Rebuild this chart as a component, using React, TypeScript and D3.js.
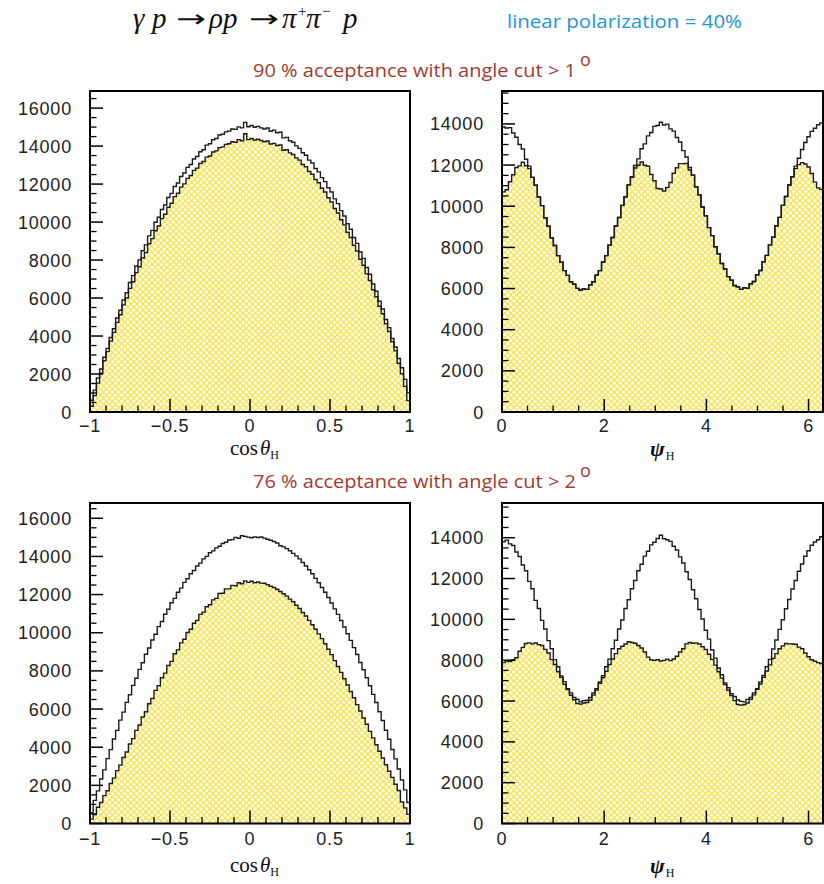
import React from 'react';
import * as d3 from 'd3';

// ---------- data (bin contents, 100 bins each) ----------
const cosAll90 = [620,1150,1790,2260,2880,3350,3920,4380,4950,5360,5900,6280,6820,7180,7690,8010,8490,8800,9270,9560,9990,10250,10660,10900,11290,11510,11870,12060,12400,12580,12880,13030,13320,13450,13700,13810,14050,14120,14330,14400,14580,14620,14750,14790,14900,14880,15010,14960,15250,15020,15080,14990,15040,14960,14900,14950,14780,14840,14700,14730,14430,14460,14280,14200,14010,13880,13650,13520,13260,13110,12820,12640,12340,12130,11810,11580,11220,10970,10600,10320,9910,9620,9190,8880,8420,8090,7610,7250,6740,6360,5830,5420,4870,4440,3870,3420,2820,2330,1720,1020];
const cosAcc90 = [300,860,1520,2040,2700,3180,3730,4190,4720,5120,5640,6000,6510,6860,7340,7650,8110,8400,8860,9130,9540,9790,10180,10410,10780,10990,11340,11520,11840,12010,12300,12450,12720,12840,13080,13190,13420,13480,13690,13750,13920,13960,14090,14120,14230,14200,14340,14280,14650,14340,14400,14320,14360,14290,14230,14270,14110,14140,14030,14060,13780,13810,13640,13560,13380,13260,13030,12910,12660,12520,12240,12070,11780,11580,11280,11060,10710,10480,10120,9850,9460,9190,8780,8480,8040,7730,7270,6920,6440,6070,5570,5170,4650,4240,3700,3220,2570,2010,1350,600];
const cosAll76 = [570,1210,1710,2330,2810,3400,3870,4430,4880,5420,5840,6350,6750,7240,7610,8080,8430,8870,9200,9620,9920,10320,10590,10970,11230,11570,11800,12120,12340,12640,12830,13090,13260,13500,13650,13870,14000,14190,14290,14450,14530,14680,14740,14860,14880,15000,14950,15080,15050,15010,14980,15020,14990,15020,14960,14900,14850,14780,14700,14560,14500,14410,14300,14160,14030,13870,13680,13500,13300,13090,12850,12620,12370,12120,11850,11560,11250,10960,10640,10300,9950,9600,9220,8860,8440,8060,7640,7220,6770,6340,5860,5400,4890,4420,3880,3390,2860,2280,1760,1100];
const cosAcc76 = [230,470,850,1100,1460,1720,2100,2380,2770,3060,3460,3750,4170,4450,4880,5160,5580,5860,6280,6550,6980,7220,7640,7880,8280,8500,8900,9100,9470,9660,10010,10180,10500,10650,10960,11080,11360,11470,11720,11800,12060,12070,12300,12300,12480,12460,12620,12570,12720,12640,12700,12620,12660,12600,12590,12520,12440,12370,12280,12160,12040,11920,11760,11620,11440,11270,11060,10880,10650,10420,10180,9940,9690,9420,9130,8850,8540,8230,7920,7590,7260,6920,6590,6230,5900,5530,5200,4830,4490,4130,3790,3430,3080,2740,2420,2060,1730,1130,820,480];

const psiAll90 = [13850,13800,13820,13560,13350,13000,12780,12280,11950,11400,11020,10450,10030,9440,9030,8470,8090,7600,7280,6870,6640,6330,6210,6010,5920,5980,5960,6180,6330,6650,6870,7290,7600,8110,8480,9040,9450,10040,10460,11040,11420,11980,12300,12790,13030,13420,13580,13880,13920,14080,13950,13990,13760,13650,13340,13120,12700,12390,11880,11510,10940,10550,9960,9540,8960,8570,8030,7690,7220,6950,6580,6410,6150,6090,5960,6040,6010,6230,6340,6670,6880,7300,7610,8120,8490,9050,9460,10040,10470,11030,11430,11950,12330,12760,13100,13380,13640,13790,13960,14050];
const psiAcc90 = [10700,10800,11190,11530,11880,11960,12140,11970,11830,11400,11020,10450,10030,9440,9030,8470,8090,7600,7280,6870,6640,6330,6210,6010,5920,5980,5960,6180,6330,6650,6870,7290,7600,8110,8480,9040,9450,10040,10460,11040,11420,11860,11990,12150,11990,11940,11540,11240,10860,10840,10740,10910,11150,11600,11870,12070,12070,12080,11760,11510,10940,10550,9960,9540,8960,8570,8030,7690,7220,6950,6580,6410,6150,6090,5960,6040,6010,6230,6340,6670,6880,7300,7610,8120,8490,9050,9460,10040,10470,11030,11430,11830,12020,12120,12050,11910,11590,11170,10890,10820];
const psiAll76 = [13800,13880,13700,13620,13300,13080,12660,12380,11860,11500,10930,10530,9950,9530,8960,8560,8030,7680,7230,6950,6600,6400,6180,6090,5960,6020,6040,6170,6390,6600,6940,7240,7680,8050,8560,8980,9530,9970,10530,10960,11500,11900,12380,12700,13100,13340,13650,13780,13960,14120,13950,13900,13820,13580,13400,13060,12760,12330,11950,11450,11010,10480,10020,9470,9030,8500,8100,7620,7290,6890,6650,6360,6220,6050,5980,5960,6080,6170,6400,6600,6940,7250,7680,8040,8550,8990,9510,9980,10520,10970,11490,11900,12360,12710,13090,13360,13630,13790,13900,14050];
const psiAcc76 = [7880,7960,7930,8010,8120,8440,8630,8820,8850,8800,8840,8760,8720,8530,8350,8030,7790,7430,7160,6820,6560,6280,6060,5880,5850,5900,5930,6040,6290,6540,6870,7140,7460,7790,8060,8320,8560,8680,8790,8900,8870,8830,8720,8600,8400,8150,8020,7990,8030,7960,7990,8050,7980,8060,8190,8400,8560,8800,8870,8830,8850,8790,8660,8520,8290,8040,7760,7430,7120,6810,6530,6270,6020,5830,5800,5830,5900,6080,6300,6570,6830,7160,7470,7770,8080,8320,8560,8700,8820,8800,8790,8780,8640,8560,8350,8170,8020,7950,7880,7840];

const cosMajor = [-1, -0.5, 0, 0.5, 1];
const cosMajorLabels = ['\u22121', '\u22120.5', '0', '0.5', '1'];
const cosMinor = [-0.9, -0.8, -0.7, -0.6, -0.4, -0.3, -0.2, -0.1, 0.1, 0.2, 0.3, 0.4, 0.6, 0.7, 0.8, 0.9];
const psiMajor = [0, 2, 4, 6];
const psiMajorLabels = ['0', '2', '4', '6'];
const psiMinor = [0.5, 1, 1.5, 2.5, 3, 3.5, 4.5, 5, 5.5];
const yMajor = [0, 2000, 4000, 6000, 8000, 10000, 12000, 14000, 16000];
const yMinor = d3.range(500, 17000, 500).filter((v) => v % 2000 !== 0);

const TITLE_RED_1 = '90 % acceptance with angle cut > 1';
const TITLE_RED_2 = '76 % acceptance with angle cut > 2';
const TITLE_BLUE = 'linear polarization = 40%';

const LABEL_FONT = '"Liberation Sans", Arial, sans-serif';
const SERIF = '"Liberation Serif", "Times New Roman", serif';
const HUMAN = '"Open Sans", "Noto Sans", sans-serif';

function histPath(vals: number[], x: d3.ScaleLinear<number, number>, y: d3.ScaleLinear<number, number>, lo: number, hi: number) {
  const n = vals.length;
  const w = (hi - lo) / n;
  let d = `M${x(lo)},${y(0)}`;
  vals.forEach((v, i) => {
    d += `V${y(v)}H${x(lo + (i + 1) * w)}`;
  });
  d += `V${y(0)}`;
  return d;
}

type PanelProps = {
  x0: number; x1: number; y0: number; y1: number;
  kind: 'cos' | 'psi';
  yMax: number;
  all: number[]; acc: number[];
  titleY: number;
  labelDy: number;
};

function Panel({ x0, x1, y0, y1, kind, yMax, all, acc, titleY, labelDy }: PanelProps) {
  const lo = kind === 'cos' ? -1 : 0;
  const hi = kind === 'cos' ? 1 : 2 * Math.PI;
  const x = d3.scaleLinear().domain([lo, hi]).range([x0, x1]);
  const y = d3.scaleLinear().domain([0, yMax]).range([y1, y0]);
  const major = kind === 'cos' ? cosMajor : psiMajor;
  const majorLabels = kind === 'cos' ? cosMajorLabels : psiMajorLabels;
  const minor = kind === 'cos' ? cosMinor : psiMinor;
  const majLen = 13;
  const minLen = 6.5;
  const accPath = histPath(acc, x, y, lo, hi);
  const allPath = histPath(all, x, y, lo, hi);
  const yM = yMajor.filter((v) => v <= yMax);
  const ym = yMinor.filter((v) => v <= yMax);
  return (
    <g>
      <path d={accPath + 'Z'} fill="url(#yhatch)" stroke="none" />
      <path d={allPath} fill="none" stroke="#1b1b1b" strokeWidth={1.4} />
      <path d={accPath} fill="none" stroke="#1b1b1b" strokeWidth={1.4} />
      {major.map((t) => (
        <line key={'xM' + t} x1={x(t)} x2={x(t)} y1={y1} y2={y1 - majLen} stroke="#000" strokeWidth={1.5} />
      ))}
      {minor.map((t) => (
        <line key={'xm' + t} x1={x(t)} x2={x(t)} y1={y1} y2={y1 - minLen} stroke="#000" strokeWidth={1.3} />
      ))}
      {yM.map((t) => (
        <line key={'yM' + t} x1={x0} x2={x0 + majLen} y1={y(t)} y2={y(t)} stroke="#000" strokeWidth={1.5} />
      ))}
      {ym.map((t) => (
        <line key={'ym' + t} x1={x0} x2={x0 + minLen} y1={y(t)} y2={y(t)} stroke="#000" strokeWidth={1.3} />
      ))}
      <rect x={x0} y={y0} width={x1 - x0} height={y1 - y0} fill="none" stroke="#000" strokeWidth={2} />
      {yM.map((t) => (
        <text key={'yl' + t} x={x0 - 18} y={y(t) + 6.5} textAnchor="end" fontFamily={LABEL_FONT} fontSize={18} letterSpacing={0.8} fill="#222">
          {String(t)}
        </text>
      ))}
      {major.map((t, i) => (
        <text key={'xl' + t} x={x(t)} y={y1 + labelDy} textAnchor="middle" fontFamily={LABEL_FONT} fontSize={18} letterSpacing={0.8} fill="#222">
          {majorLabels[i]}
        </text>
      ))}
      {kind === 'cos' ? (
        <text x={x0 + 140} y={titleY} fontFamily={SERIF} fontSize={21} fill="#111">
          cos<tspan fontStyle="italic" dx={2}>θ</tspan>
          <tspan fontSize={12} dy={4}>H</tspan>
        </text>
      ) : (
        <text x={x0 + 148} y={titleY} fontFamily={SERIF} fontSize={22} fill="#111">
          <tspan fontStyle="italic" fontWeight="bold">ψ</tspan>
          <tspan fontSize={12} dy={4} dx={1}>H</tspan>
        </text>
      )}
    </g>
  );
}

function Arrow({ x, y }: { x: number; y: number }) {
  return (
    <text x={x} y={y} fontFamily='"DejaVu Sans", sans-serif' fontSize={24} fill="#111" textLength={30} lengthAdjust="spacingAndGlyphs">
      →
    </text>
  );
}

export default function App() {
  const L = { x0: 90, x1: 410 };
  const R = { x0: 502, x1: 823 };
  const T = { y0: 91, y1: 412 };
  const B = { y0: 503, y1: 823.5 };
  const hy = 28;
  const hs = { fontFamily: SERIF, fontSize: 29, fill: '#111', fontStyle: 'italic' as const };
  return (
    <svg width={824} height={884} style={{ position: 'absolute', left: 0, top: 0, background: '#fff' }}>
      <defs>
        <pattern id="yhatch" width={4.3} height={4.3} patternUnits="userSpaceOnUse" patternTransform="rotate(45)">
          <path d="M0,2.15H4.3M2.15,0V4.3" stroke="#f4e040" strokeWidth={1.25} />
        </pattern>
      </defs>
      <rect x={0} y={0} width={824} height={884} fill="#fff" />
      {/* header formula */}
      <text x={133} y={hy} {...hs}>γ</text>
      <text x={152} y={hy} {...hs}>p</text>
      <Arrow x={176} y={hy - 1} />
      <text x={209} y={hy} {...hs}>ρp</text>
      <Arrow x={249} y={hy - 1} />
      <text x={282} y={hy} {...hs}>π</text>
      <text x={298} y={hy - 12} fontFamily={SERIF} fontSize={15} fill="#111">+</text>
      <text x={306} y={hy} {...hs}>π</text>
      <text x={322} y={hy - 12} fontFamily={SERIF} fontSize={15} fill="#111">−</text>
      <text x={343} y={hy} {...hs}>p</text>

      <text x={507} y={28} fontFamily={HUMAN} fontSize={18} fill="#1e96d6" textLength={235} lengthAdjust="spacingAndGlyphs">
        {TITLE_BLUE}
      </text>
      <text x={253} y={77} fontFamily={HUMAN} fontSize={19} fill="#a23a30" textLength={323} lengthAdjust="spacingAndGlyphs">
        {TITLE_RED_1}
      </text>
      <text x={580} y={66} fontFamily={HUMAN} fontSize={18} fill="#a23a30">o</text>
      <text x={253} y={488} fontFamily={HUMAN} fontSize={19} fill="#a23a30" textLength={323} lengthAdjust="spacingAndGlyphs">
        {TITLE_RED_2}
      </text>
      <text x={580} y={477} fontFamily={HUMAN} fontSize={18} fill="#a23a30">o</text>

      <Panel {...L} {...T} kind="cos" yMax={16900} all={cosAll90} acc={cosAcc90} titleY={455} labelDy={20} />
      <Panel {...R} {...T} kind="psi" yMax={15600} all={psiAll90} acc={psiAcc90} titleY={456} labelDy={20} />
      <Panel {...L} {...B} kind="cos" yMax={16800} all={cosAll76} acc={cosAcc76} titleY={872} labelDy={21} />
      <Panel {...R} {...B} kind="psi" yMax={15700} all={psiAll76} acc={psiAcc76} titleY={873} labelDy={21} />
    </svg>
  );
}
